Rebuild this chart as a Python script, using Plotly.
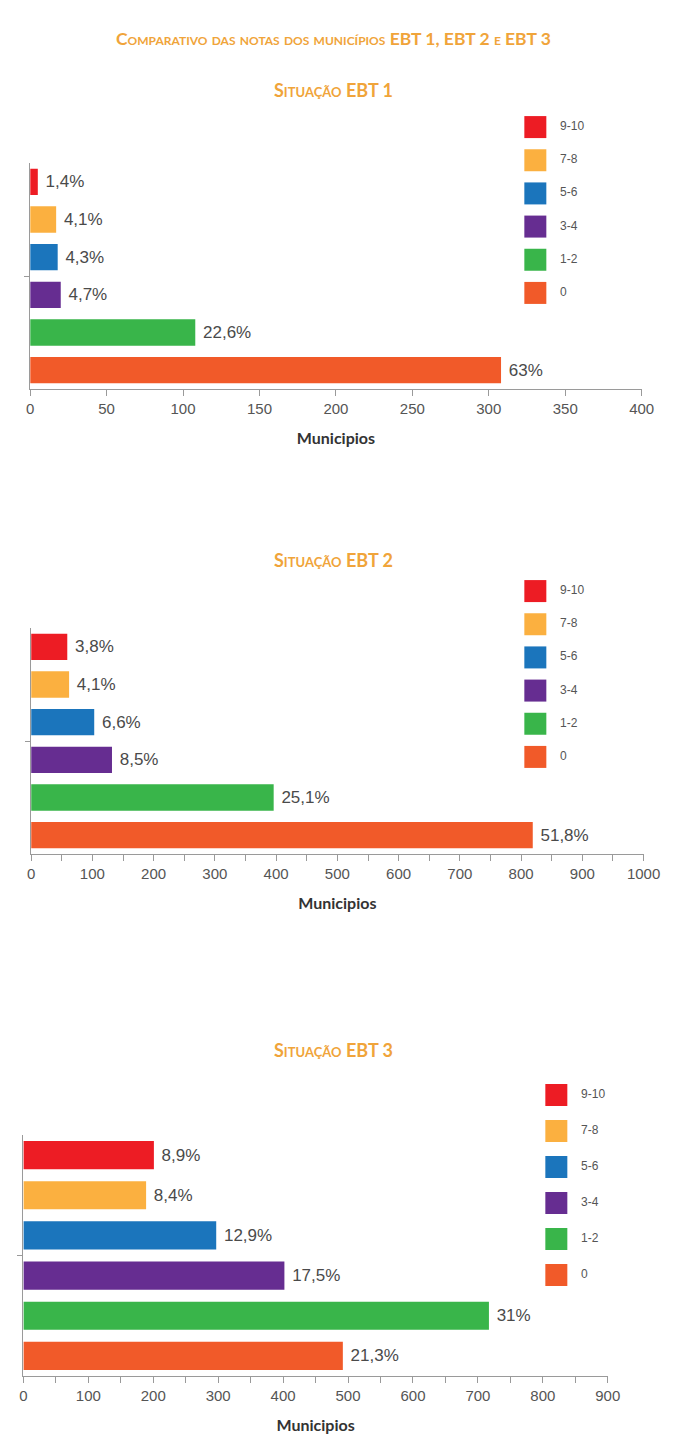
import plotly.graph_objects as go

# ---------------- data ----------------
categories = ["0", "1-2", "3-4", "5-6", "7-8", "9-10"]          # bottom -> top
colors = ["#F15A29", "#39B54A", "#662D91", "#1B75BC", "#FBB040", "#ED1C24"]

ebt1_values = [308, 108, 20, 18, 17, 5]
ebt1_labels = ["63%", "22,6%", "4,7%", "4,3%", "4,1%", "1,4%"]

ebt2_values = [819, 396, 132, 103, 62, 59]
ebt2_labels = ["51,8%", "25,1%", "8,5%", "6,6%", "4,1%", "3,8%"]

ebt3_values = [492, 717, 402, 297, 189, 201]
ebt3_labels = ["21,3%", "31%", "17,5%", "12,9%", "8,4%", "8,9%"]

main_title = "Comparativo das notas dos municípios EBT 1, EBT 2 e EBT 3"
sub_titles = ["Situação EBT 1", "Situação EBT 2", "Situação EBT 3"]
axis_title = "Municipios"

# ---------------- layout helpers ----------------
W, H = 680, 1443
ORANGE = "#F0A43A"
NARROW = "Liberation Sans Narrow, Arial Narrow, Liberation Sans, sans-serif"
TITLEF = "Lato, Open Sans, sans-serif"

def px_y(top, bottom):
    return [1 - bottom / H, 1 - top / H]

def px_x(left, right):
    return [left / W, right / W]

charts = [
    dict(values=ebt1_values, labels=ebt1_labels, xr=[0, 400], dtick=50, minor=None,
         xdom=px_x(27, 658), ydom=px_y(163, 389),
         leg_x=px_x(528, 680), leg_y=px_y(110.5, 309.5), sub_y=90),
    dict(values=ebt2_values, labels=ebt2_labels, xr=[0, 1000], dtick=100, minor=50,
         xdom=px_x(28, 660), ydom=px_y(628, 854),
         leg_x=px_x(528, 680), leg_y=px_y(574.5, 773.5), sub_y=560),
    dict(values=ebt3_values, labels=ebt3_labels, xr=[0, 900], dtick=100, minor=50,
         xdom=px_x(20, 623), ydom=px_y(1135, 1376),
         leg_x=px_x(553, 680), leg_y=px_y(1077, 1293), sub_y=1050),
]

fig = go.Figure()
layout_axes = {}
annotations = []

for i, c in enumerate(charts):
    n = i + 1
    xa = "x" if n == 1 else f"x{n}"
    ya = "y" if n == 1 else f"y{n}"
    for cat, col, v, lab in zip(categories, colors, c["values"], c["labels"]):
        fig.add_trace(go.Bar(
            x=[v], y=[0], orientation="h", name=cat,
            marker=dict(color=col, line=dict(width=0)),
            text=[" " + lab], textposition="outside",
            textfont=dict(family=NARROW, size=17, color="#4a4a4a"),
            cliponaxis=False, showlegend=False,
            xaxis=xa, yaxis=ya,
        ))
    xkey = "xaxis" if n == 1 else f"xaxis{n}"
    ykey = "yaxis" if n == 1 else f"yaxis{n}"
    xdict = dict(domain=c["xdom"], range=c["xr"], dtick=c["dtick"], tick0=0,
                 anchor=ya, showgrid=False, zeroline=False,
                 showline=True, linecolor="#9a9a9a", linewidth=1,
                 ticks="outside", ticklen=6, tickcolor="#9a9a9a",
                 tickfont=dict(family=NARROW, size=15, color="#555555"),
                 title=dict(text=axis_title, standoff=16,
                            font=dict(family=TITLEF, size=16, color="#333333", weight="bold")),
                 fixedrange=True)
    if c["minor"]:
        xdict["minor"] = dict(dtick=c["minor"], ticks="outside", ticklen=6,
                              tickcolor="#9a9a9a")
    layout_axes[xkey] = xdict
    layout_axes[ykey] = dict(domain=c["ydom"], range=[-0.5, 0.5], anchor=xa,
                             showgrid=False, zeroline=False,
                             showline=True, linecolor="#9a9a9a", linewidth=1,
                             tickvals=[0], ticks="outside", ticklen=5,
                             tickcolor="#9a9a9a", showticklabels=False,
                             fixedrange=True)

    # legend drawn in its own small axes
    ln = n + 3
    lxa, lya = f"x{ln}", f"y{ln}"
    fig.add_trace(go.Scatter(
        x=[20] * len(categories), y=categories, mode="markers+text",
        marker=dict(symbol="square", size=22, color=colors, line=dict(width=0)),
        text=["   " + t for t in categories], textposition="middle right",
        textfont=dict(family=NARROW, size=12, color="#555555"),
        showlegend=False, hoverinfo="skip", cliponaxis=False,
        xaxis=lxa, yaxis=lya,
    ))
    layout_axes[f"xaxis{ln}"] = dict(domain=c["leg_x"], range=[0, 150], anchor=lya,
                                     visible=False, fixedrange=True)
    layout_axes[f"yaxis{ln}"] = dict(domain=c["leg_y"], type="category",
                                     categoryorder="array", categoryarray=categories,
                                     range=[-0.5, 5.5], anchor=lxa,
                                     visible=False, fixedrange=True)

    annotations.append(dict(
        text=sub_titles[i], x=0.5, xref="paper", yref="paper",
        y=1 - c["sub_y"] / H, xanchor="center", yanchor="middle", showarrow=False,
        font=dict(family=TITLEF, size=18, color=ORANGE, weight="bold", variant="small-caps")))

annotations.append(dict(
    text=main_title, x=0.5, y=1 - 38 / H, xref="paper", yref="paper",
    xanchor="center", yanchor="middle", showarrow=False,
    font=dict(family=TITLEF, size=17.5, color=ORANGE, weight="bold", variant="small-caps")))

fig.update_layout(
    width=W, height=H,
    margin=dict(l=0, r=0, t=0, b=0),
    paper_bgcolor="white", plot_bgcolor="white",
    barmode="group", bargap=0, bargroupgap=0.3,
    showlegend=False,
    annotations=annotations,
    **layout_axes,
)

fig.write_html("out.html")
